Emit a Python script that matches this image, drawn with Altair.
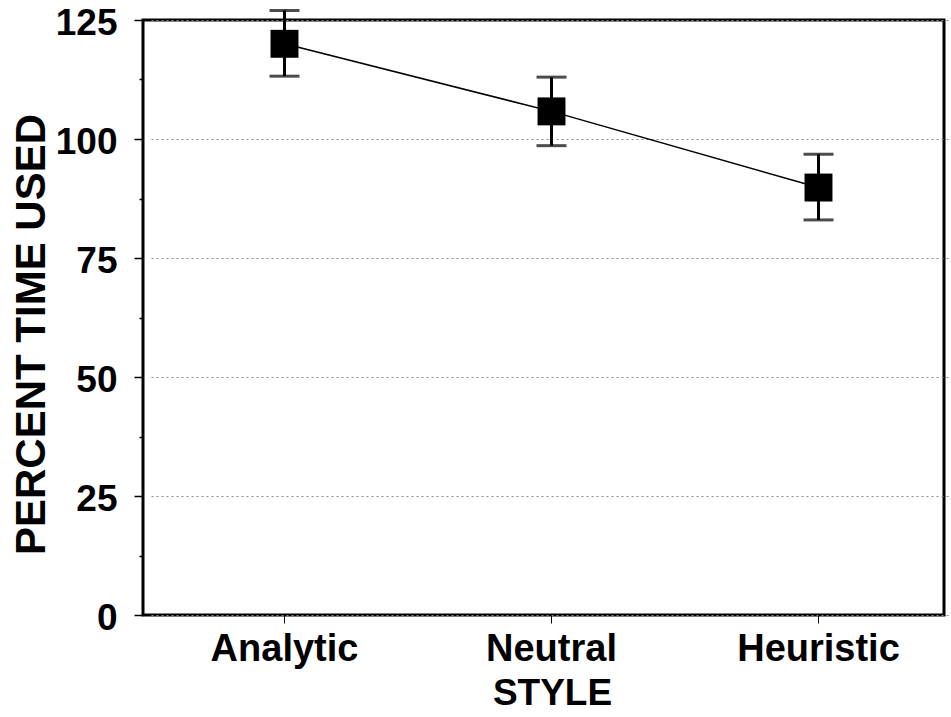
import altair as alt
import pandas as pd

styles = ["Analytic", "Neutral", "Heuristic"]
means = [120.0, 105.8, 89.8]
upper = [127.0, 113.0, 96.8]
lower = [113.2, 98.6, 83.0]

df = pd.DataFrame({"style": styles, "mean": means, "upper": upper, "lower": lower})

FONT = "Liberation Sans"

x = alt.X(
    "style:N",
    sort=styles,
    scale=alt.Scale(range=[8, 809], paddingInner=0, paddingOuter=0),
    axis=alt.Axis(
        title="STYLE",
        titleFont=FONT, titleFontSize=37, titleFontWeight="bold", titleColor="black",
        titleX=409, titleY=78, titleBaseline="middle", titleAlign="center",
        labelFont=FONT, labelFontSize=38, labelFontWeight="bold", labelColor="black",
        labelAngle=0, labelPadding=7, labelBaseline="top",
        tickColor="black", tickSize=8, tickWidth=1,
        domain=False, grid=False,
    ),
)

y_axis = alt.Axis(
    title="PERCENT TIME USED",
    titleFont=FONT, titleFontSize=42, titleFontWeight="bold", titleColor="black",
    titleX=-112, titleY=314, titleBaseline="middle", titleAlign="center", titleAngle=-90,
    values=[0, 12.5, 25, 37.5, 50, 62.5, 75, 87.5, 100, 112.5, 125],
    labelExpr="datum.value % 25 == 0 ? datum.label : ''",
    labelFont=FONT, labelFontSize=37, labelFontWeight="bold", labelColor="black",
    labelPadding=17, labelOffset=3,
    tickColor="black", tickWidth=1.5,
    tickSize={"condition": {"test": "datum.value % 25 == 0", "value": 9}, "value": 4},
    domain=False,
    grid=True, gridColor="#8a8a8a", gridDash=[2, 3], gridWidth=1,
    gridOpacity={"condition": {"test": "datum.value % 25 == 0", "value": 1}, "value": 0},
)

yscale = alt.Scale(domain=[0, 125], nice=False, zero=True)
y = alt.Y("mean:Q", scale=yscale, axis=y_axis)

base = alt.Chart(df)

line = base.mark_line(color="black", strokeWidth=1.5).encode(x=x, y=y)

err = base.mark_rule(color="black", strokeWidth=3).encode(
    x=x, y=alt.Y("lower:Q", scale=yscale, axis=y_axis), y2="upper:Q"
)
cap_hi = base.mark_tick(color="black", thickness=3, size=30).encode(
    x=x, y=alt.Y("upper:Q", scale=yscale, axis=y_axis)
)
cap_lo = base.mark_tick(color="black", thickness=3, size=30).encode(
    x=x, y=alt.Y("lower:Q", scale=yscale, axis=y_axis)
)
pts = base.mark_square(color="black", opacity=1, size=780).encode(x=x, y=y)

chart = (
    alt.layer(line, err, cap_hi, cap_lo, pts)
    .properties(
        width=801,
        height=595,
        autosize=alt.AutoSizeParams(type="none"),
        padding={"left": 143, "top": 20, "right": 7, "bottom": 102},
        background="white",
    )
    .configure_view(stroke="black", strokeWidth=3)
)

chart.save("out.html", embed_options={"renderer": "svg", "actions": False})
